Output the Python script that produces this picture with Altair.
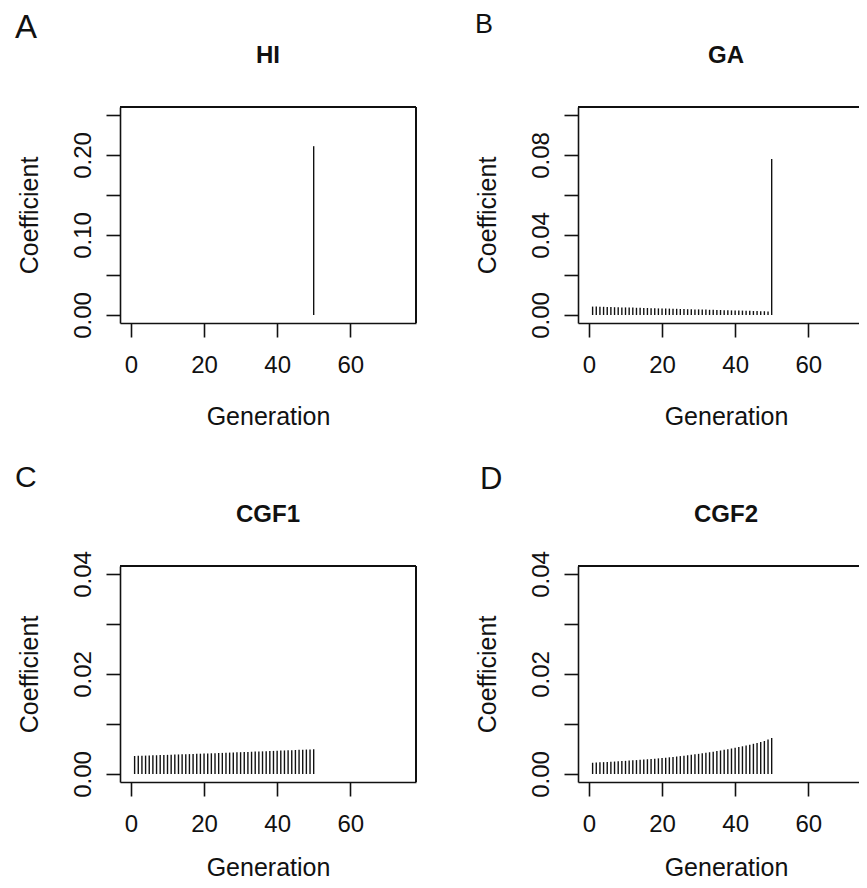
import altair as alt
import pandas as pd

# ---------------- data ----------------
generation = list(range(1, 51))

hi_coef = [0.0, 0.0, 0.0, 0.0, 0.0, 0.0, 0.0, 0.0, 0.0, 0.0,
           0.0, 0.0, 0.0, 0.0, 0.0, 0.0, 0.0, 0.0, 0.0, 0.0,
           0.0, 0.0, 0.0, 0.0, 0.0, 0.0, 0.0, 0.0, 0.0, 0.0,
           0.0, 0.0, 0.0, 0.0, 0.0, 0.0, 0.0, 0.0, 0.0, 0.0,
           0.0, 0.0, 0.0, 0.0, 0.0, 0.0, 0.0, 0.0, 0.0, 0.211]

ga_coef = [0.0042, 0.0042, 0.0041, 0.0041, 0.0040, 0.0040, 0.0039, 0.0039, 0.0038, 0.0038,
           0.0037, 0.0037, 0.0036, 0.0036, 0.0035, 0.0035, 0.0034, 0.0034, 0.0033, 0.0033,
           0.0032, 0.0032, 0.0031, 0.0031, 0.0030, 0.0030, 0.0029, 0.0029, 0.0028, 0.0028,
           0.0027, 0.0027, 0.0026, 0.0026, 0.0025, 0.0025, 0.0024, 0.0024, 0.0023, 0.0023,
           0.0022, 0.0022, 0.0021, 0.0021, 0.0020, 0.0020, 0.0019, 0.0019, 0.0018, 0.0780]

cgf1_coef = [0.00360, 0.00363, 0.00365, 0.00368, 0.00370, 0.00373, 0.00375, 0.00378, 0.00380, 0.00383,
             0.00385, 0.00388, 0.00391, 0.00393, 0.00396, 0.00398, 0.00401, 0.00404, 0.00406, 0.00409,
             0.00412, 0.00414, 0.00417, 0.00420, 0.00422, 0.00425, 0.00428, 0.00431, 0.00433, 0.00436,
             0.00439, 0.00442, 0.00445, 0.00448, 0.00450, 0.00453, 0.00456, 0.00459, 0.00462, 0.00465,
             0.00468, 0.00471, 0.00474, 0.00477, 0.00480, 0.00483, 0.00486, 0.00489, 0.00492, 0.00495]

cgf2_coef = [0.00225, 0.00229, 0.00233, 0.00237, 0.00241, 0.00245, 0.00249, 0.00253, 0.00258, 0.00263,
             0.00268, 0.00273, 0.00278, 0.00283, 0.00289, 0.00295, 0.00301, 0.00307, 0.00313, 0.00320,
             0.00327, 0.00334, 0.00342, 0.00350, 0.00358, 0.00366, 0.00375, 0.00384, 0.00393, 0.00403,
             0.00413, 0.00424, 0.00435, 0.00446, 0.00458, 0.00470, 0.00483, 0.00496, 0.00510, 0.00524,
             0.00539, 0.00554, 0.00570, 0.00587, 0.00604, 0.00620, 0.00640, 0.00660, 0.00690, 0.00720]

panel_letters = ["A", "B", "C", "D"]
panel_titles = ["HI", "GA", "CGF1", "CGF2"]
x_ticks = [0, 20, 40, 60]
y_ticks = {
    "HI": [0.0, 0.05, 0.10, 0.15, 0.20, 0.25],
    "GA": [0.0, 0.02, 0.04, 0.06, 0.08, 0.10],
    "CGF1": [0.0, 0.01, 0.02, 0.03, 0.04],
    "CGF2": [0.0, 0.01, 0.02, 0.03, 0.04],
}
y_labels = {
    "HI": ["0.00", "0.10", "0.20"],
    "GA": ["0.00", "0.04", "0.08"],
    "CGF1": ["0.00", "0.02", "0.04"],
    "CGF2": ["0.00", "0.02", "0.04"],
}
y_limits = {"HI": [0.0, 0.25], "GA": [0.0, 0.10], "CGF1": [0.0, 0.04], "CGF2": [0.0, 0.04]}
x_limits = [0, 75]

series = {"HI": hi_coef, "GA": ga_coef, "CGF1": cgf1_coef, "CGF2": cgf2_coef}

FONT = "Liberation Sans"
INK = "#111111"
PLOT_W = 296
PLOT_H = 216

letter_style = {
    "A": dict(size=33, dx=-105, dy=-69),
    "B": dict(size=27, dx=-103, dy=-74),
    "C": dict(size=30, dx=-105, dy=-79.2),
    "D": dict(size=31, dx=-98, dy=-77),
}


def panel(idx):
    name = panel_titles[idx]
    letter = panel_letters[idx]
    bottom_row = idx >= 2

    lo, hi = y_limits[name]
    ext = (hi - lo) * 0.04
    ydom = [lo - ext, hi + ext]
    xext = (x_limits[1] - x_limits[0]) * 0.04
    xdom = [x_limits[0] - xext, x_limits[1] + xext]

    df = pd.DataFrame({"Generation": generation, "Coefficient": series[name]})

    label_arr = "[" + ",".join("'%s'" % s for s in y_labels[name]) + "]"
    xscale = alt.Scale(domain=xdom, nice=False, zero=False)
    yscale = alt.Scale(domain=ydom, nice=False, zero=False)

    spikes = alt.Chart(df).mark_rule(color=INK, strokeWidth=1.4).encode(
        x=alt.X("Generation:Q", scale=xscale,
                axis=alt.Axis(values=x_ticks, title="Generation", format="d",
                              titleX=PLOT_W / 2, titleY=93 if bottom_row else 101,
                              titleBaseline="alphabetic",
                              titleAlign="center", titleAnchor="middle")),
        y=alt.Y("Coefficient:Q", scale=yscale,
                axis=alt.Axis(values=y_ticks[name], title="Coefficient",
                              labelExpr="indexof(%s, format(datum.value, '.2f')) >= 0 ? format(datum.value, '.2f') : ''" % label_arr,
                              labelAngle=270, labelAlign="center", labelBaseline="alphabetic",
                              titleAngle=270, titleX=-82.5, titleY=PLOT_H / 2,
                              titleBaseline="alphabetic", titleAlign="center")),
        y2=alt.datum(0),
    )

    top_edge = alt.Chart(df).mark_rule(color=INK, strokeWidth=1.6).encode(
        y=alt.datum(ydom[1])
    )
    right_edge = alt.Chart(df).mark_rule(color=INK, strokeWidth=1.6).encode(
        x=alt.datum(xdom[1])
    )
    layers = [spikes, top_edge, right_edge]

    ls = letter_style[letter]
    letter_txt = alt.Chart(pd.DataFrame({"t": [letter]})).mark_text(
        font=FONT, fontSize=ls["size"], align="left", baseline="alphabetic", color=INK
    ).encode(text="t:N", x=alt.value(ls["dx"]), y=alt.value(ls["dy"]))

    title_txt = alt.Chart(pd.DataFrame({"t": [name]})).mark_text(
        font=FONT, fontSize=24, fontWeight="bold", align="center", baseline="alphabetic", color=INK
    ).encode(text="t:N", x=alt.value(PLOT_W / 2), y=alt.value(-44.5))

    layers += [letter_txt, title_txt]
    return alt.layer(*layers).properties(width=PLOT_W, height=PLOT_H)


# page has an 8px margin; plot A's box top-left sits at page (120, 107).
# The svg is kept within the body width so that it is not shrunk; the
# right-hand panels run off its edge, as in the original figure.
ORIGIN_X = 112
ORIGIN_Y = 99
SVG_W = 851
SVG_H = 872

chart = alt.concat(
    panel(0), panel(1), panel(2), panel(3),
    columns=2, spacing={"row": 243, "column": 162}, bounds="flush",
).properties(
    autosize=alt.AutoSizeParams(type="none"),
    padding={"left": ORIGIN_X, "top": ORIGIN_Y,
             "right": SVG_W - ORIGIN_X, "bottom": SVG_H - ORIGIN_Y},
).configure_view(
    stroke=None
).configure_axis(
    domainColor=INK, domainWidth=1.6,
    tickColor=INK, tickWidth=1.6, tickSize=14,
    labelFont=FONT, labelFontSize=24, labelColor=INK, labelPadding=16,
    labelOverlap=False, labelFlush=False,
    titleFont=FONT, titleFontSize=25, titleFontWeight="normal", titleColor=INK,
    grid=False,
).configure_axisX(labelAngle=0)

chart.save("out.html", embed_options={"renderer": "svg", "actions": False})
